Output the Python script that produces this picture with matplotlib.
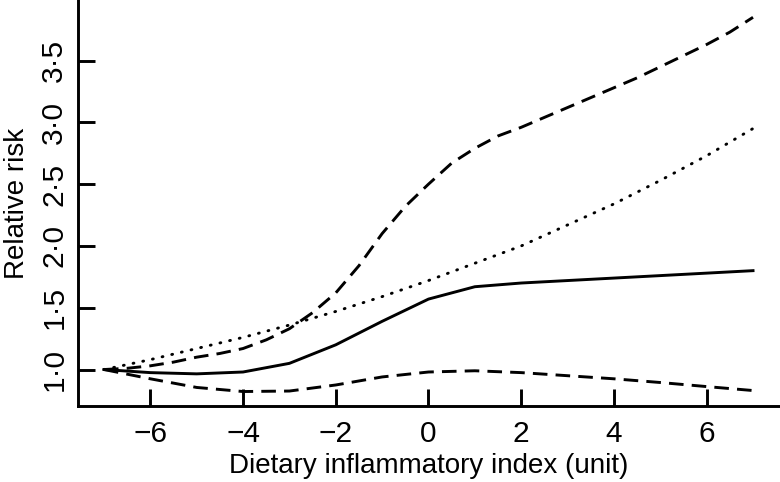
import matplotlib
matplotlib.use("Agg")
import matplotlib.pyplot as plt

plt.rcParams['font.family'] = ['Liberation Sans', 'DejaVu Sans']

# dietary inflammatory index values
dii = [-7, -6, -5, -4, -3, -2, -1, 0, 1, 2, 3, 4, 5, 6, 7]
dii_half = [-7, -6.5, -6, -5.5, -5, -4.5, -4, -3.5, -3, -2.5, -2, -1.5, -1, -0.5,
            0, 0.5, 1, 1.5, 2, 2.5, 3, 3.5, 4, 4.5, 5, 5.5, 6, 6.5, 7]

# spline estimate and its 95% CI
rr = [1.00, 0.975, 0.965, 0.98, 1.05, 1.20, 1.39, 1.57, 1.67, 1.70, 1.72, 1.74, 1.76, 1.78, 1.80]
rr_upper = [1.00, 1.01, 1.03, 1.06, 1.10, 1.13, 1.17, 1.24, 1.33, 1.46, 1.62, 1.84, 2.10, 2.32,
            2.50, 2.67, 2.79, 2.89, 2.96, 3.04, 3.12, 3.20, 3.28, 3.36, 3.45, 3.54, 3.63, 3.73, 3.85]
rr_lower = [1.00, 0.925, 0.855, 0.822, 0.826, 0.875, 0.94, 0.98, 0.99, 0.975, 0.95, 0.925, 0.895, 0.862, 0.83]

# linear (log-linear) trend
rr_linear = [1.00, 1.08, 1.17, 1.26, 1.36, 1.47, 1.59, 1.72, 1.86, 2.00, 2.17, 2.34, 2.53, 2.73, 2.95]

x_ticks = [-6, -4, -2, 0, 2, 4, 6]
x_ticklabels = ['−6', '−4', '−2', '0', '2', '4', '6']
y_ticks = [1.0, 1.5, 2.0, 2.5, 3.0, 3.5]
y_ticklabels = ['1·0', '1·5', '2·0', '2·5', '3·0', '3·5']

fig = plt.figure(figsize=(7.8, 4.82), dpi=100)
ax = fig.add_axes([0.1, 0.1577, 0.8987, 0.8423])

lw = 2.1
ax.plot(dii, rr, color='black', lw=lw, solid_joinstyle='round')
ax.plot(dii_half, rr_upper, color='black', lw=lw, dashes=(5, 2.8))
ax.plot(dii, rr_lower, color='black', lw=lw, dashes=(5, 2.8))
ax.plot(dii, rr_linear, color='black', lw=lw, dashes=(0.3, 3.1), dash_capstyle='round')

ax.set_xlim(-7.56, 7.56)
ax.set_ylim(0.705, 3.99)

for side in ['top', 'right']:
    ax.spines[side].set_visible(False)
for side in ['left', 'bottom']:
    ax.spines[side].set_linewidth(lw)

ax.set_xticks(x_ticks)
ax.set_xticklabels(x_ticklabels)
ax.set_yticks(y_ticks)
ax.set_yticklabels(y_ticklabels, rotation=90, va='center')

ax.tick_params(axis='both', direction='in', length=12, width=lw,
               labelsize=21.5, color='black')
ax.tick_params(axis='x', pad=10)
ax.tick_params(axis='y', pad=7)

ax.set_xlabel('Dietary inflammatory index (unit)', fontsize=20)
ax.set_ylabel('Relative risk', fontsize=20)
ax.xaxis.set_label_coords(0.5, -0.115)
ax.yaxis.set_label_coords(-0.068, 0.5)

fig.savefig('out.png', dpi=100)
